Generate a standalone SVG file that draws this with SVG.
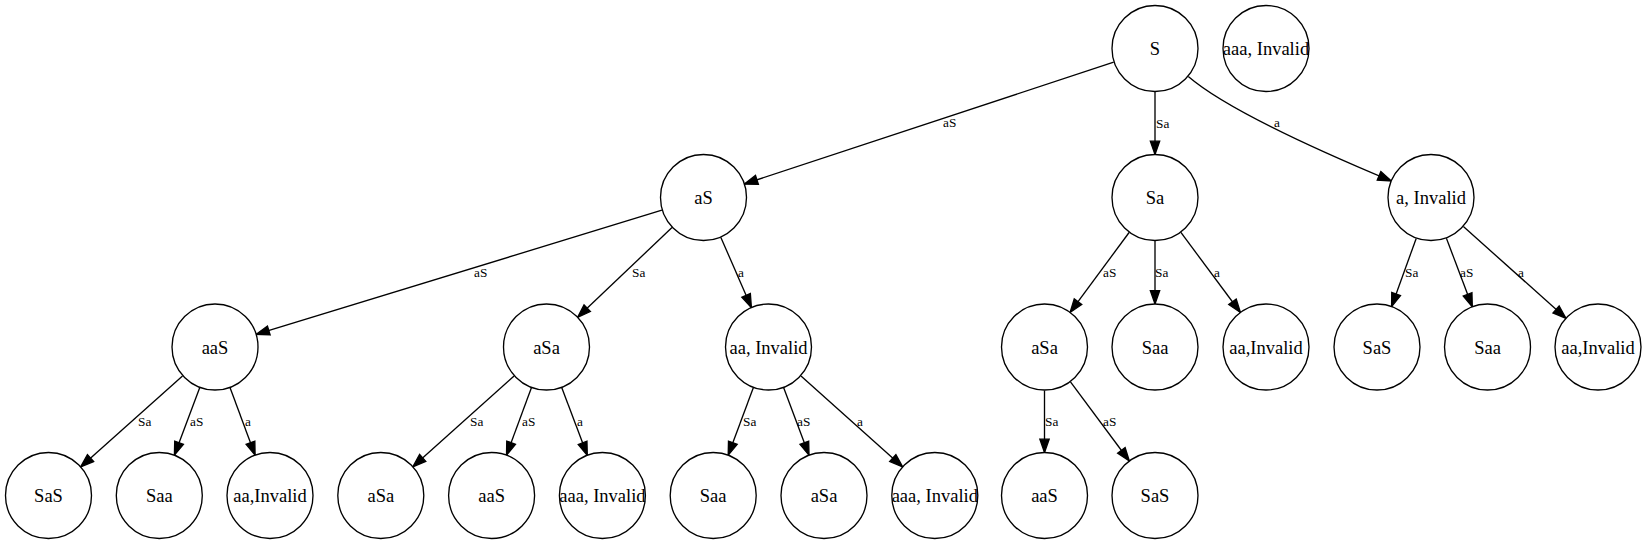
<svg xmlns="http://www.w3.org/2000/svg" width="1647" height="545" viewBox="0 0 1647 545">
<style>
.n circle{fill:#fff;stroke:#000;stroke-width:1.33}
.n text{font-size:18.5px;text-anchor:middle;fill:#000}
.e path,.e line{fill:none;stroke:#000;stroke-width:1.33;marker-end:url(#ah)}
.el{font-size:13.3px;fill:#000}
</style>
<defs>
<marker id="ah" markerUnits="userSpaceOnUse" viewBox="-14 -6 15 12" refX="0" refY="0" markerWidth="15" markerHeight="12" orient="auto" overflow="visible">
<path d="M-13.3,-4.65 L0,0 L-13.3,4.65 z" fill="#000" stroke="#000" stroke-width="1.33" stroke-linejoin="miter"/>
</marker>
</defs>
<rect width="1647" height="545" fill="#fff"/>
<g font-family="Liberation Serif, Times New Roman, Times, serif">
<g id="edges" class="e">
<line x1="1113.7" y1="62.1" x2="744.3" y2="184.0"/>
<line x1="1155" y1="92" x2="1155" y2="154.5"/>
<path d="M1188.3,76.5 Q1233,115 1391.3,181.0"/>
<line x1="661.9" y1="210.2" x2="256.1" y2="334.4"/>
<line x1="672.0" y1="227.5" x2="577.6" y2="317.3"/>
<line x1="720.9" y1="237.4" x2="751.4" y2="307.6"/>
<line x1="1129.1" y1="232.5" x2="1070.1" y2="312.4"/>
<line x1="1155" y1="241" x2="1155" y2="304"/>
<line x1="1180.9" y1="232.4" x2="1240.4" y2="312.5"/>
<line x1="1416.2" y1="238.4" x2="1391.6" y2="306.6"/>
<line x1="1446.4" y1="238.2" x2="1472.3" y2="306.8"/>
<line x1="1463.4" y1="226.5" x2="1566.0" y2="318.3"/>
<line x1="182.5" y1="376.0" x2="80.6" y2="466.9"/>
<line x1="199.7" y1="387.7" x2="174.4" y2="455.2"/>
<line x1="230.1" y1="387.8" x2="255.1" y2="455.2"/>
<line x1="514.1" y1="376.0" x2="412.8" y2="466.8"/>
<line x1="531.4" y1="387.8" x2="506.5" y2="455.2"/>
<line x1="561.8" y1="387.7" x2="587.3" y2="455.3"/>
<line x1="753.3" y1="387.8" x2="728.2" y2="455.2"/>
<line x1="783.7" y1="387.7" x2="809.0" y2="455.2"/>
<line x1="801.0" y1="376.0" x2="902.7" y2="466.9"/>
<line x1="1044.5" y1="390.5" x2="1044.5" y2="452.5"/>
<line x1="1070.5" y1="381.9" x2="1129.3" y2="461.0"/>
<g id="edge-labels">
<text class="el" x="943" y="127">aS</text>
<text class="el" x="1156" y="128">Sa</text>
<text class="el" x="1274" y="127">a</text>
<text class="el" x="474" y="277">aS</text>
<text class="el" x="632" y="277">Sa</text>
<text class="el" x="738" y="277">a</text>
<text class="el" x="1103" y="277">aS</text>
<text class="el" x="1155" y="277">Sa</text>
<text class="el" x="1214" y="277">a</text>
<text class="el" x="1405" y="277">Sa</text>
<text class="el" x="1460" y="277">aS</text>
<text class="el" x="1518" y="277">a</text>
<text class="el" x="138" y="426">Sa</text>
<text class="el" x="190" y="426">aS</text>
<text class="el" x="245" y="426">a</text>
<text class="el" x="470" y="426">Sa</text>
<text class="el" x="522" y="426">aS</text>
<text class="el" x="577" y="426">a</text>
<text class="el" x="743" y="426">Sa</text>
<text class="el" x="797" y="426">aS</text>
<text class="el" x="857" y="426">a</text>
<text class="el" x="1045" y="426">Sa</text>
<text class="el" x="1103" y="426">aS</text>
</g>
</g>
<g id="n_S" class="n"><circle cx="1155" cy="48.5" r="43"/><text x="1155" y="55">S</text></g>
<g id="n_aaaI_top" class="n"><circle cx="1266" cy="48.5" r="43"/><text x="1266" y="55">aaa, Invalid</text></g>
<g id="n_aS" class="n"><circle cx="703.5" cy="197.5" r="43"/><text x="703.5" y="204">aS</text></g>
<g id="n_Sa" class="n"><circle cx="1155" cy="197.5" r="43"/><text x="1155" y="204">Sa</text></g>
<g id="n_aI" class="n"><circle cx="1431" cy="197.5" r="43"/><text x="1431" y="204">a, Invalid</text></g>
<g id="n_aaS" class="n"><circle cx="215" cy="347" r="43"/><text x="215" y="353.5">aaS</text></g>
<g id="n_aSa" class="n"><circle cx="546.5" cy="347" r="43"/><text x="546.5" y="353.5">aSa</text></g>
<g id="n_aaI" class="n"><circle cx="768.5" cy="347" r="43"/><text x="768.5" y="353.5">aa, Invalid</text></g>
<g id="n_aSa2" class="n"><circle cx="1044.5" cy="347" r="43"/><text x="1044.5" y="353.5">aSa</text></g>
<g id="n_Saa2" class="n"><circle cx="1155" cy="347" r="43"/><text x="1155" y="353.5">Saa</text></g>
<g id="n_aaI2" class="n"><circle cx="1266" cy="347" r="43"/><text x="1266" y="353.5">aa,Invalid</text></g>
<g id="n_SaS3" class="n"><circle cx="1377" cy="347" r="43"/><text x="1377" y="353.5">SaS</text></g>
<g id="n_Saa3" class="n"><circle cx="1487.5" cy="347" r="43"/><text x="1487.5" y="353.5">Saa</text></g>
<g id="n_aaI3" class="n"><circle cx="1598" cy="347" r="43"/><text x="1598" y="353.5">aa,Invalid</text></g>
<g id="n_SaS1" class="n"><circle cx="48.5" cy="495.5" r="43"/><text x="48.5" y="502">SaS</text></g>
<g id="n_Saa1" class="n"><circle cx="159.3" cy="495.5" r="43"/><text x="159.3" y="502">Saa</text></g>
<g id="n_aaI1" class="n"><circle cx="270" cy="495.5" r="43"/><text x="270" y="502">aa,Invalid</text></g>
<g id="n_aSa4" class="n"><circle cx="380.8" cy="495.5" r="43"/><text x="380.8" y="502">aSa</text></g>
<g id="n_aaS4" class="n"><circle cx="491.6" cy="495.5" r="43"/><text x="491.6" y="502">aaS</text></g>
<g id="n_aaaI4" class="n"><circle cx="602.4" cy="495.5" r="43"/><text x="602.4" y="502">aaa, Invalid</text></g>
<g id="n_Saa5" class="n"><circle cx="713.2" cy="495.5" r="43"/><text x="713.2" y="502">Saa</text></g>
<g id="n_aSa5" class="n"><circle cx="824" cy="495.5" r="43"/><text x="824" y="502">aSa</text></g>
<g id="n_aaaI5" class="n"><circle cx="934.8" cy="495.5" r="43"/><text x="934.8" y="502">aaa, Invalid</text></g>
<g id="n_aaS6" class="n"><circle cx="1044.5" cy="495.5" r="43"/><text x="1044.5" y="502">aaS</text></g>
<g id="n_SaS6" class="n"><circle cx="1155" cy="495.5" r="43"/><text x="1155" y="502">SaS</text></g>
</g>
</svg>
